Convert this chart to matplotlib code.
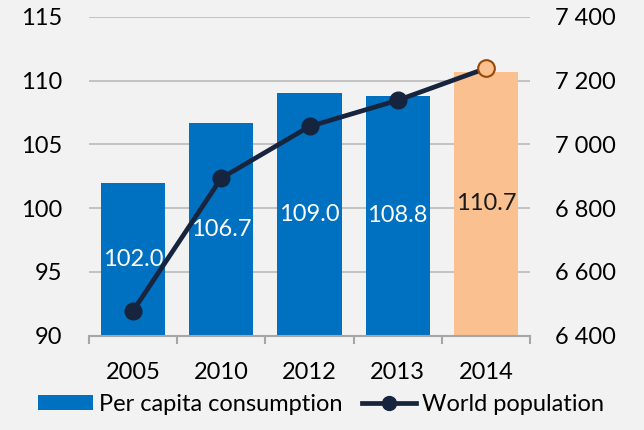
import matplotlib.pyplot as plt
from matplotlib.lines import Line2D
from matplotlib.patches import Patch

years = ['2005', '2010', '2012', '2013', '2014']
consumption = [102.0, 106.7, 109.0, 108.8, 110.7]
population = [6478, 6894, 7056, 7138, 7238]

plt.rcParams['font.family'] = ['Lato', 'DejaVu Sans']

bg = '#f2f2f2'
blue = '#0070c0'
orange = '#fac090'
navy = '#16243e'
grey = '#a6a6a6'

fig = plt.figure(figsize=(6.44, 4.30), dpi=100, facecolor=bg)
ax = fig.add_axes([89 / 644, 1 - 335.7 / 430, (530 - 89) / 644, (335.7 - 16.7) / 430])
ax.set_facecolor(bg)

x = list(range(len(years)))
colors = [blue] * 4 + [orange]
ax.bar(x, [v - 90 for v in consumption], bottom=90, width=0.73, color=colors, zorder=2)
ax.set_ylim(90, 115)
ax.set_xlim(-0.5, len(years) - 0.5)
ax.set_yticks(range(90, 116, 5))
ax.yaxis.grid(True, color='#bfbfbf', linewidth=1.3, zorder=0)
ax.set_axisbelow(True)

# value labels in the middle of each bar
for i, v in enumerate(consumption):
    c = 'white' if i < 4 else '#1a1a1a'
    ax.text(i, (90 + v) / 2, f'{v:.1f}', ha='center', va='center', color=c, fontsize=17, zorder=5)

for s in ['top', 'right', 'left']:
    ax.spines[s].set_visible(False)
ax.spines['bottom'].set_color(grey)
ax.spines['bottom'].set_linewidth(1.5)
ax.tick_params(axis='y', length=0, labelsize=17, pad=19)
ax.set_xticks(x)
ax.set_xticklabels(years)
ax.tick_params(axis='x', length=0, labelsize=17, pad=19)
ax.set_xticks([i - 0.5 for i in range(len(years) + 1)], minor=True)
ax.tick_params(axis='x', which='minor', length=6, width=1.5, color=grey, direction='out')

ax2 = ax.twinx()
ax2.set_ylim(6400, 7400)
ax2.set_yticks(range(6400, 7401, 200))
ax2.set_yticklabels([f'{t // 1000} {t % 1000:03d}' for t in range(6400, 7401, 200)])
for s in ['top', 'right', 'left', 'bottom']:
    ax2.spines[s].set_visible(False)
ax2.tick_params(axis='y', length=0, labelsize=17, pad=18)

ax2.plot(x, population, color=navy, linewidth=3.4, zorder=3)
ax2.plot(x[:4], population[:4], 'o', color=navy, markersize=12, zorder=4)
ax2.plot(x[4], population[4], 'o', markerfacecolor=orange, markeredgecolor='#984807',
         markeredgewidth=1.5, markersize=12, zorder=4)

handles = [Patch(facecolor=blue),
           Line2D([0], [0], color=navy, linewidth=3.4, marker='o', markersize=10)]
fig.legend(handles, ['Per capita consumption', 'World population'], loc='center',
           bbox_to_anchor=(0.499, 0.06), ncol=2, frameon=False, fontsize=17,
           handlelength=2.3, handleheight=0.6, handletextpad=0.25, columnspacing=0.85,
           borderpad=0, borderaxespad=0)

fig.savefig('out.png', dpi=100, facecolor=bg)
